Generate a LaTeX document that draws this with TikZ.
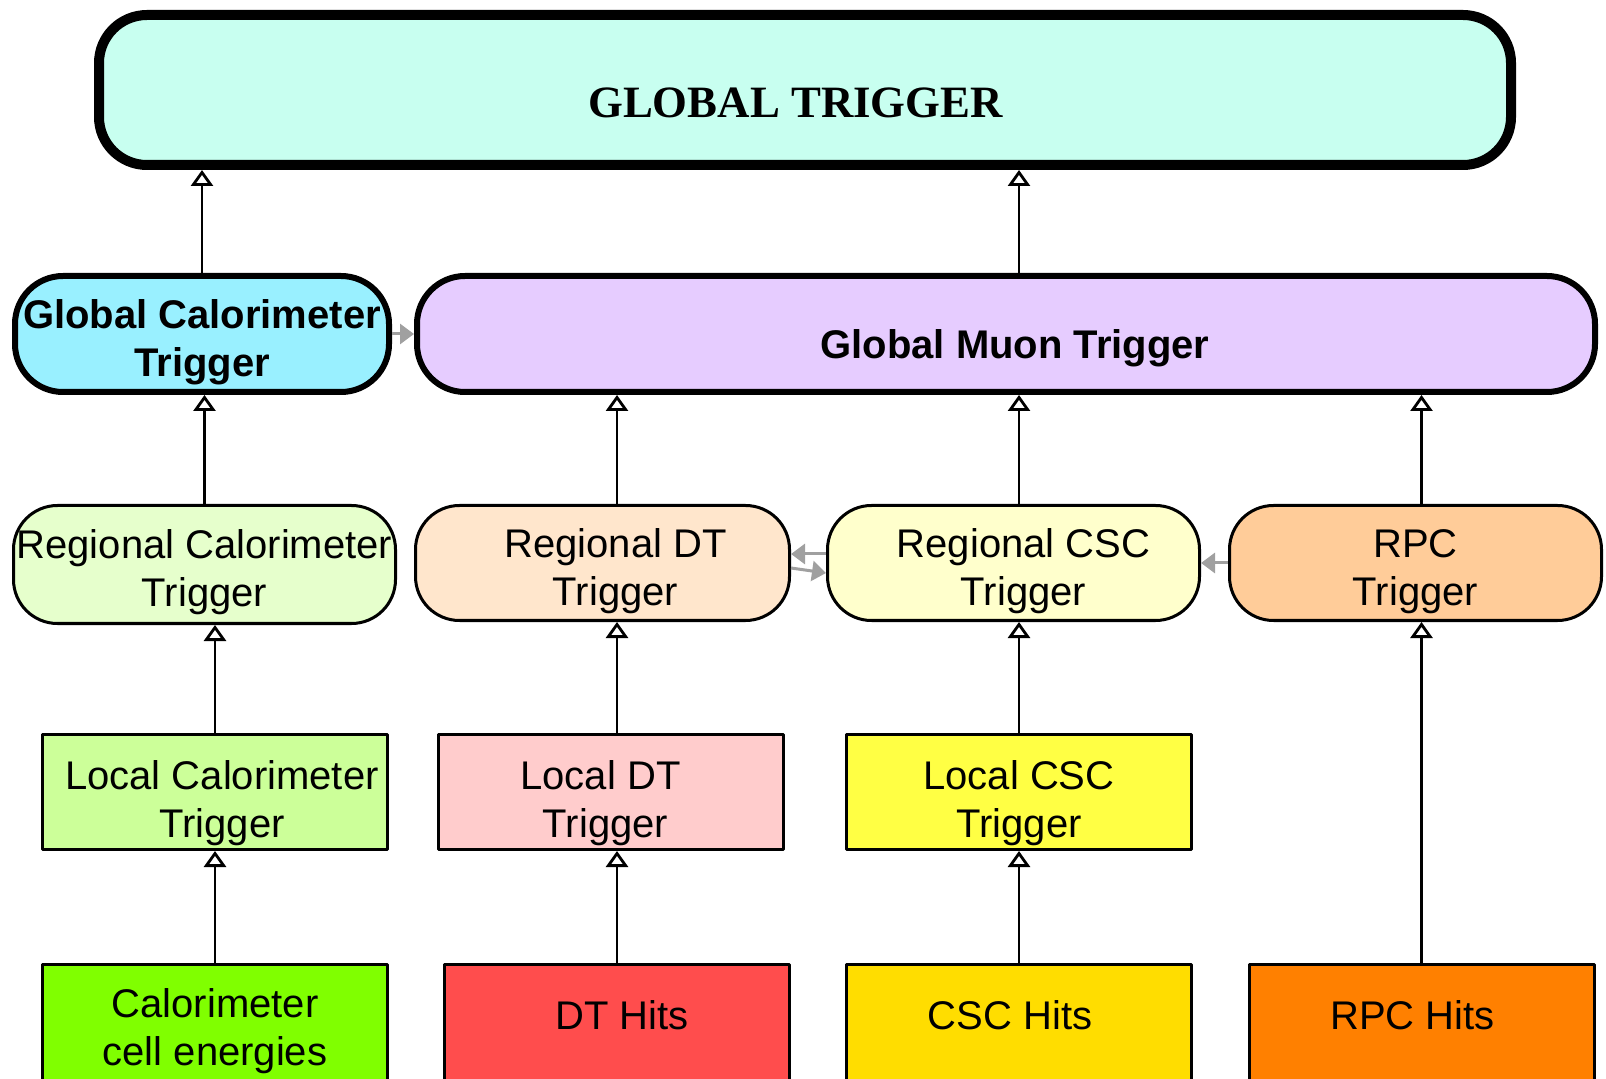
\documentclass[tikz,border=0pt]{standalone}
\usepackage{fontspec}
\setmainfont{Liberation Sans}
\newfontfamily\gtfont{Liberation Serif}
\usetikzlibrary{arrows.meta}
\definecolor{gtfill}{HTML}{C8FFF0}
\definecolor{gctfill}{HTML}{99F0FF}
\definecolor{gmtfill}{HTML}{E6CCFF}
\definecolor{rctfill}{HTML}{E6FFCC}
\definecolor{rdtfill}{HTML}{FFE6CC}
\definecolor{rcscfill}{HTML}{FFFFCC}
\definecolor{rpcfill}{HTML}{FFCC99}
\definecolor{lctfill}{HTML}{CCFF99}
\definecolor{ldtfill}{HTML}{FFCCCC}
\definecolor{lcscfill}{HTML}{FFFF44}
\definecolor{calofill}{HTML}{80FF00}
\definecolor{dtfill}{HTML}{FF4D4D}
\definecolor{cscfill}{HTML}{FFDD00}
\definecolor{rpchfill}{HTML}{FF8000}
\definecolor{sidegray}{HTML}{A0A0A0}
\begin{document}
\begin{tikzpicture}[x=0.5pt, y=-0.5pt, line join=round,
		font=\fontsize{20}{24}\selectfont,
		gbox/.style={draw, line width=3pt, rounded corners=24pt, align=center, inner sep=0pt, minimum height=58pt, font=\bfseries\fontsize{20}{24}\selectfont},
		rbox/.style={draw, line width=1.5pt, rounded corners=22pt, align=center, inner sep=0pt, minimum width=186pt, minimum height=57.5pt, text height=46.3pt},
		lbox/.style={draw, line width=1.5pt, align=center, inner sep=0pt, minimum width=172.5pt, minimum height=57.5pt, text height=49.3pt},
		hbox/.style={draw, line width=1.5pt, align=center, inner sep=0pt, minimum width=172.5pt, minimum height=75pt},
		up/.style={line width=1.4pt, -{Triangle[fill=white, width=11pt, length=8pt]}},
		side/.style={draw=sidegray, line width=1.5pt, -{Triangle[width=10pt, length=7pt]}}]
	\useasboundingbox (0,0) rectangle (1606,1079);
	% top level
	\node[draw, line width=5pt, rounded corners=24pt, fill=gtfill, minimum width=706pt, minimum height=75pt, text height=28pt,
		font=\gtfont\bfseries\fontsize{22.4}{26}\selectfont] (gt) at (805,90) {GLOBAL TRIGGER\hspace*{9.5pt}};
	% global triggers
	\node[gbox, fill=gctfill, minimum width=187pt, text height=46.3pt] (gct) at (202,334) {Global Calorimeter\\Trigger};
	\node[gbox, fill=gmtfill, minimum width=589pt, text height=28.3pt] (gmt) at (1006,334) {\hspace*{9pt}Global Muon Trigger};
	% regional triggers
	\node[rbox, fill=rctfill, minimum width=191pt, minimum height=59pt] (rct) at (204.5,564.5) {Regional Calorimeter\\Trigger};
	\node[rbox, fill=rdtfill, minimum width=187pt] (rdt) at (602.5,563) {\hspace*{13pt}Regional DT\\\hspace*{13pt}Trigger};
	\node[rbox, fill=rcscfill] (rcsc) at (1013.5,563) {\hspace*{10pt}Regional CSC\\\hspace*{10pt}Trigger};
	\node[rbox, fill=rpcfill] (rpct) at (1415.5,563) {RPC\\Trigger};
	% local triggers
	\node[lbox, fill=lctfill] (lct) at (215,792) {\hspace*{7pt}Local Calorimeter\\\hspace*{7pt}Trigger};
	\node[lbox, fill=ldtfill] (ldt) at (610.5,792) {Local DT\hspace*{10pt}\\Trigger\hspace*{5pt}};
	\node[lbox, fill=lcscfill] (lcsc) at (1019,792) {Local CSC\\Trigger};
	% hits
	\node[hbox, fill=calofill, text depth=12pt] (calo) at (215,1039.5) {Calorimeter\\cell energies};
	\node[hbox, fill=dtfill, text depth=24pt] (dth) at (617,1039.5) {\hspace*{5pt}DT Hits};
	\node[hbox, fill=cscfill, text depth=24pt] (csch) at (1019,1039.5) {CSC Hits\hspace*{9pt}};
	\node[hbox, fill=rpchfill, text depth=24pt] (rpch) at (1421.5,1039.5) {RPC Hits\hspace*{9pt}};
	% upward connections
	\foreach \col/\lo/\hi in {gct/gct/gt, csch/gmt/gt, rct/rct/gct, dth/rdt/gmt, csch/rcsc/gmt, rpch/rpct/gmt,
			lct/lct/rct, dth/ldt/rdt, csch/lcsc/rcsc, rpch/rpch/rpct, calo/calo/lct, dth/dth/ldt, csch/csch/lcsc}
		\draw[up] (\col.north |- \lo.north) -- (\col.north |- \hi.south);
	% side connections
	\draw[side] (gct.east) -- (gmt.west);
	\draw[side] ([yshift=4.5pt]rcsc.west) -- ([yshift=4.5pt]rdt.east);
	\draw[side] ([yshift=-2.5pt]rdt.east) -- ([yshift=-5pt]rcsc.west);
	\draw[side] (rpct.west) -- (rcsc.east);
\end{tikzpicture}
\end{document}
